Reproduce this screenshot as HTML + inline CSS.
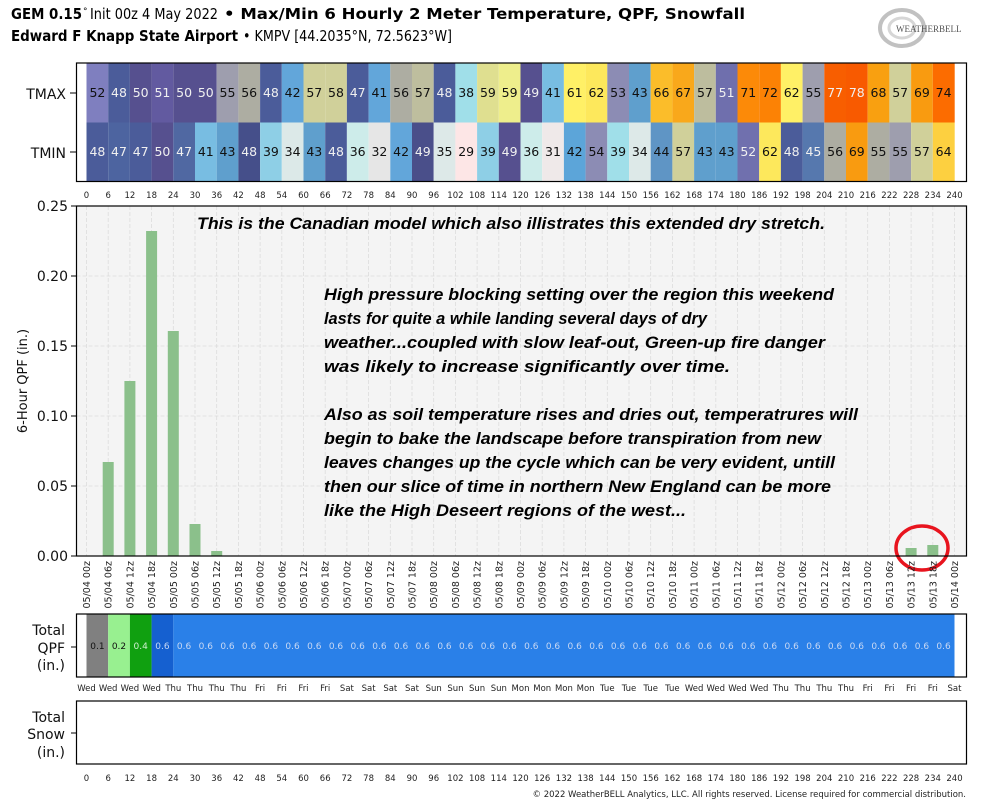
<!DOCTYPE html>
<html><head><meta charset="utf-8"><style>
body{margin:0;background:#fff;}
svg{display:block;font-family:"DejaVu Sans","Liberation Sans",sans-serif;}
.tk{font-size:8.5px;fill:#222;text-anchor:middle;}
.dt{font-size:9.5px;fill:#222;text-anchor:end;}
.c{font-size:12.5px;text-anchor:middle;}
.w{fill:#f0f0f0}.b{fill:#111}
.q{font-size:9px;text-anchor:middle;}
.an{font-family:"Liberation Sans",sans-serif;font-weight:bold;font-style:italic;font-size:17px;fill:#000;}
.lab{font-size:14px;fill:#111;text-anchor:end;}
</style></head><body>
<svg width="997" height="808" viewBox="0 0 997 808" xmlns="http://www.w3.org/2000/svg">
<!-- Title -->
<text x="11" y="19" font-size="15" font-weight="bold" fill="#000" textLength="71" lengthAdjust="spacingAndGlyphs">GEM 0.15</text>
<text x="83" y="14" font-size="9" fill="#000">°</text>
<text x="90" y="19" font-size="15" fill="#000" textLength="128" lengthAdjust="spacingAndGlyphs">Init 00z 4 May 2022</text>
<text x="224" y="19" font-size="15" font-weight="bold" fill="#000" textLength="521" lengthAdjust="spacingAndGlyphs">• Max/Min 6 Hourly 2 Meter Temperature,  QPF,  Snowfall</text>
<text x="11" y="41" font-size="15" font-weight="bold" fill="#000" textLength="227" lengthAdjust="spacingAndGlyphs">Edward F Knapp State Airport</text>
<text x="243" y="41" font-size="15" fill="#000" textLength="209" lengthAdjust="spacingAndGlyphs">• KMPV [44.2035°N, 72.5623°W]</text>
<!-- logo -->
<g opacity="0.6"><ellipse cx="902" cy="28" rx="22" ry="18" fill="none" stroke="#999" stroke-width="4"/><ellipse cx="902" cy="28" rx="13" ry="10" fill="none" stroke="#bbb" stroke-width="3"/></g>
<text x="896" y="32" font-size="9" fill="#555" font-family="Liberation Serif,serif">WEATHERBELL</text>

<!-- Heatmap -->
<g>
<rect x="86.5" y="63" width="21.7" height="59.5" fill="#7f7fbf"/><rect x="108.2" y="63" width="21.7" height="59.5" fill="#4b5c9a"/><rect x="129.9" y="63" width="21.7" height="59.5" fill="#56508f"/><rect x="151.6" y="63" width="21.7" height="59.5" fill="#625aa0"/><rect x="173.3" y="63" width="21.7" height="59.5" fill="#56508f"/><rect x="195" y="63" width="21.7" height="59.5" fill="#56508f"/><rect x="216.7" y="63" width="21.7" height="59.5" fill="#9e9eae"/><rect x="238.4" y="63" width="21.7" height="59.5" fill="#adada2"/><rect x="260.1" y="63" width="21.7" height="59.5" fill="#4b5c9a"/><rect x="281.8" y="63" width="21.7" height="59.5" fill="#62a6da"/><rect x="303.5" y="63" width="21.7" height="59.5" fill="#d0d09a"/><rect x="325.2" y="63" width="21.7" height="59.5" fill="#d0d09a"/><rect x="346.9" y="63" width="21.7" height="59.5" fill="#4b5c9a"/><rect x="368.6" y="63" width="21.7" height="59.5" fill="#62a6da"/><rect x="390.3" y="63" width="21.7" height="59.5" fill="#adada2"/><rect x="412" y="63" width="21.7" height="59.5" fill="#bebe9e"/><rect x="433.7" y="63" width="21.7" height="59.5" fill="#4b5c9a"/><rect x="455.4" y="63" width="21.7" height="59.5" fill="#a0dfe9"/><rect x="477.1" y="63" width="21.7" height="59.5" fill="#dfdf90"/><rect x="498.8" y="63" width="21.7" height="59.5" fill="#eeee8c"/><rect x="520.5" y="63" width="21.7" height="59.5" fill="#56508f"/><rect x="542.2" y="63" width="21.7" height="59.5" fill="#78bde2"/><rect x="563.9" y="63" width="21.7" height="59.5" fill="#fff066"/><rect x="585.6" y="63" width="21.7" height="59.5" fill="#fde85c"/><rect x="607.3" y="63" width="21.7" height="59.5" fill="#8c8cb4"/><rect x="629" y="63" width="21.7" height="59.5" fill="#5f9fcd"/><rect x="650.7" y="63" width="21.7" height="59.5" fill="#fbbd2a"/><rect x="672.4" y="63" width="21.7" height="59.5" fill="#f9a81b"/><rect x="694.1" y="63" width="21.7" height="59.5" fill="#bdbd9e"/><rect x="715.8" y="63" width="21.7" height="59.5" fill="#6f6fad"/><rect x="737.5" y="63" width="21.7" height="59.5" fill="#fc8a08"/><rect x="759.2" y="63" width="21.7" height="59.5" fill="#fc8205"/><rect x="780.9" y="63" width="21.7" height="59.5" fill="#fff066"/><rect x="802.6" y="63" width="21.7" height="59.5" fill="#9e9eae"/><rect x="824.3" y="63" width="21.7" height="59.5" fill="#f85e00"/><rect x="846" y="63" width="21.7" height="59.5" fill="#f85a00"/><rect x="867.7" y="63" width="21.7" height="59.5" fill="#f9a010"/><rect x="889.4" y="63" width="21.7" height="59.5" fill="#d0d09a"/><rect x="911.1" y="63" width="21.7" height="59.5" fill="#f99b10"/><rect x="932.8" y="63" width="21.9" height="59.5" fill="#fc6c00"/>
<rect x="86.5" y="122.5" width="21.7" height="59" fill="#4b5c9a"/><rect x="108.2" y="122.5" width="21.7" height="59" fill="#4d64a0"/><rect x="129.9" y="122.5" width="21.7" height="59" fill="#4b5c9a"/><rect x="151.6" y="122.5" width="21.7" height="59" fill="#56508f"/><rect x="173.3" y="122.5" width="21.7" height="59" fill="#5068a2"/><rect x="195" y="122.5" width="21.7" height="59" fill="#78bde2"/><rect x="216.7" y="122.5" width="21.7" height="59" fill="#5f9fcd"/><rect x="238.4" y="122.5" width="21.7" height="59" fill="#454f8a"/><rect x="260.1" y="122.5" width="21.7" height="59" fill="#8ecfe6"/><rect x="281.8" y="122.5" width="21.7" height="59" fill="#dce9e8"/><rect x="303.5" y="122.5" width="21.7" height="59" fill="#5f9fcd"/><rect x="325.2" y="122.5" width="21.7" height="59" fill="#4b5c9a"/><rect x="346.9" y="122.5" width="21.7" height="59" fill="#cdecea"/><rect x="368.6" y="122.5" width="21.7" height="59" fill="#e6e6e6"/><rect x="390.3" y="122.5" width="21.7" height="59" fill="#62a6da"/><rect x="412" y="122.5" width="21.7" height="59" fill="#4a4f8a"/><rect x="433.7" y="122.5" width="21.7" height="59" fill="#dde9e8"/><rect x="455.4" y="122.5" width="21.7" height="59" fill="#fde6e6"/><rect x="477.1" y="122.5" width="21.7" height="59" fill="#8ecfe6"/><rect x="498.8" y="122.5" width="21.7" height="59" fill="#56508f"/><rect x="520.5" y="122.5" width="21.7" height="59" fill="#cdecea"/><rect x="542.2" y="122.5" width="21.7" height="59" fill="#efe9e9"/><rect x="563.9" y="122.5" width="21.7" height="59" fill="#5ca5d9"/><rect x="585.6" y="122.5" width="21.7" height="59" fill="#8c8cb4"/><rect x="607.3" y="122.5" width="21.7" height="59" fill="#a0dfe9"/><rect x="629" y="122.5" width="21.7" height="59" fill="#dde9e8"/><rect x="650.7" y="122.5" width="21.7" height="59" fill="#5f95c5"/><rect x="672.4" y="122.5" width="21.7" height="59" fill="#d0d09a"/><rect x="694.1" y="122.5" width="21.7" height="59" fill="#5f9fcd"/><rect x="715.8" y="122.5" width="21.7" height="59" fill="#5f9fcd"/><rect x="737.5" y="122.5" width="21.7" height="59" fill="#7070ae"/><rect x="759.2" y="122.5" width="21.7" height="59" fill="#fde85c"/><rect x="780.9" y="122.5" width="21.7" height="59" fill="#4b5c9a"/><rect x="802.6" y="122.5" width="21.7" height="59" fill="#5678ae"/><rect x="824.3" y="122.5" width="21.7" height="59" fill="#adada2"/><rect x="846" y="122.5" width="21.7" height="59" fill="#f99b10"/><rect x="867.7" y="122.5" width="21.7" height="59" fill="#adada2"/><rect x="889.4" y="122.5" width="21.7" height="59" fill="#9e9eae"/><rect x="911.1" y="122.5" width="21.7" height="59" fill="#d0d09a"/><rect x="932.8" y="122.5" width="21.9" height="59" fill="#fdd040"/>
</g>
<g class="c">
<text x="97.4" y="97" class="b">52</text><text x="119" y="97" class="w">48</text><text x="140.7" y="97" class="w">50</text><text x="162.4" y="97" class="w">51</text><text x="184.1" y="97" class="w">50</text><text x="205.8" y="97" class="w">50</text><text x="227.5" y="97" class="b">55</text><text x="249.2" y="97" class="b">56</text><text x="270.9" y="97" class="w">48</text><text x="292.6" y="97" class="b">42</text><text x="314.3" y="97" class="b">57</text><text x="336" y="97" class="b">58</text><text x="357.7" y="97" class="w">47</text><text x="379.4" y="97" class="b">41</text><text x="401.1" y="97" class="b">56</text><text x="422.8" y="97" class="b">57</text><text x="444.5" y="97" class="w">48</text><text x="466.2" y="97" class="b">38</text><text x="487.9" y="97" class="b">59</text><text x="509.6" y="97" class="b">59</text><text x="531.3" y="97" class="w">49</text><text x="553" y="97" class="b">41</text><text x="574.7" y="97" class="b">61</text><text x="596.4" y="97" class="b">62</text><text x="618.1" y="97" class="b">53</text><text x="639.8" y="97" class="b">43</text><text x="661.5" y="97" class="b">66</text><text x="683.2" y="97" class="b">67</text><text x="704.9" y="97" class="b">57</text><text x="726.6" y="97" class="w">51</text><text x="748.3" y="97" class="b">71</text><text x="770" y="97" class="b">72</text><text x="791.7" y="97" class="b">62</text><text x="813.4" y="97" class="b">55</text><text x="835.1" y="97" class="w">77</text><text x="856.8" y="97" class="w">78</text><text x="878.5" y="97" class="b">68</text><text x="900.2" y="97" class="b">57</text><text x="921.9" y="97" class="b">69</text><text x="943.6" y="97" class="b">74</text>
<text x="97.4" y="156" class="w">48</text><text x="119" y="156" class="w">47</text><text x="140.7" y="156" class="w">47</text><text x="162.4" y="156" class="w">50</text><text x="184.1" y="156" class="w">47</text><text x="205.8" y="156" class="b">41</text><text x="227.5" y="156" class="b">43</text><text x="249.2" y="156" class="w">48</text><text x="270.9" y="156" class="b">39</text><text x="292.6" y="156" class="b">34</text><text x="314.3" y="156" class="b">43</text><text x="336" y="156" class="w">48</text><text x="357.7" y="156" class="b">36</text><text x="379.4" y="156" class="b">32</text><text x="401.1" y="156" class="b">42</text><text x="422.8" y="156" class="w">49</text><text x="444.5" y="156" class="b">35</text><text x="466.2" y="156" class="b">29</text><text x="487.9" y="156" class="b">39</text><text x="509.6" y="156" class="w">49</text><text x="531.3" y="156" class="b">36</text><text x="553" y="156" class="b">31</text><text x="574.7" y="156" class="b">42</text><text x="596.4" y="156" class="b">54</text><text x="618.1" y="156" class="b">39</text><text x="639.8" y="156" class="b">34</text><text x="661.5" y="156" class="b">44</text><text x="683.2" y="156" class="b">57</text><text x="704.9" y="156" class="b">43</text><text x="726.6" y="156" class="b">43</text><text x="748.3" y="156" class="w">52</text><text x="770" y="156" class="b">62</text><text x="791.7" y="156" class="w">48</text><text x="813.4" y="156" class="w">45</text><text x="835.1" y="156" class="b">56</text><text x="856.8" y="156" class="b">69</text><text x="878.5" y="156" class="b">55</text><text x="900.2" y="156" class="b">55</text><text x="921.9" y="156" class="b">57</text><text x="943.6" y="156" class="b">64</text>
</g>
<rect x="76.5" y="63" width="890" height="118.5" fill="none" stroke="#000" stroke-width="1.2"/>
<text x="66" y="99" class="lab">TMAX</text><text x="66" y="158" class="lab">TMIN</text>
<line x1="70" y1="93" x2="76" y2="93" stroke="#000"/><line x1="70" y1="152" x2="76" y2="152" stroke="#000"/>
<g class="tk">
<text x="86.5" y="198">0</text><text x="108.2" y="198">6</text><text x="129.9" y="198">12</text><text x="151.6" y="198">18</text><text x="173.3" y="198">24</text><text x="195" y="198">30</text><text x="216.7" y="198">36</text><text x="238.4" y="198">42</text><text x="260.1" y="198">48</text><text x="281.8" y="198">54</text><text x="303.5" y="198">60</text><text x="325.2" y="198">66</text><text x="346.9" y="198">72</text><text x="368.6" y="198">78</text><text x="390.3" y="198">84</text><text x="412" y="198">90</text><text x="433.7" y="198">96</text><text x="455.4" y="198">102</text><text x="477.1" y="198">108</text><text x="498.8" y="198">114</text><text x="520.5" y="198">120</text><text x="542.2" y="198">126</text><text x="563.9" y="198">132</text><text x="585.6" y="198">138</text><text x="607.3" y="198">144</text><text x="629" y="198">150</text><text x="650.7" y="198">156</text><text x="672.4" y="198">162</text><text x="694.1" y="198">168</text><text x="715.8" y="198">174</text><text x="737.5" y="198">180</text><text x="759.2" y="198">186</text><text x="780.9" y="198">192</text><text x="802.6" y="198">198</text><text x="824.3" y="198">204</text><text x="846" y="198">210</text><text x="867.7" y="198">216</text><text x="889.4" y="198">222</text><text x="911.1" y="198">228</text><text x="932.8" y="198">234</text><text x="954.5" y="198">240</text>
</g>

<!-- Main plot -->
<rect x="76.5" y="206" width="890" height="350" fill="#f4f4f4"/>
<g stroke="#dcdcdc" stroke-width="0.8" stroke-dasharray="4,2">
<line x1="76.5" y1="276" x2="966.5" y2="276"/><line x1="76.5" y1="346" x2="966.5" y2="346"/><line x1="76.5" y1="416" x2="966.5" y2="416"/><line x1="76.5" y1="486" x2="966.5" y2="486"/>
<path d="M86.5 206V556M108.2 206V556M129.9 206V556M151.6 206V556M173.3 206V556M195 206V556M216.7 206V556M238.4 206V556M260.1 206V556M281.8 206V556M303.5 206V556M325.2 206V556M346.9 206V556M368.6 206V556M390.3 206V556M412 206V556M433.7 206V556M455.4 206V556M477.1 206V556M498.8 206V556M520.5 206V556M542.2 206V556M563.9 206V556M585.6 206V556M607.3 206V556M629 206V556M650.7 206V556M672.4 206V556M694.1 206V556M715.8 206V556M737.5 206V556M759.2 206V556M780.9 206V556M802.6 206V556M824.3 206V556M846 206V556M867.7 206V556M889.4 206V556M911.1 206V556M932.8 206V556M954.5 206V556"/>
</g>
<g fill="#8bc08b">
<rect x="102.7" y="462" width="11" height="94"/><rect x="124.4" y="381" width="11" height="175"/><rect x="146.1" y="231" width="11" height="325"/><rect x="167.8" y="331" width="11" height="225"/><rect x="189.5" y="524" width="11" height="32"/><rect x="211.2" y="551" width="11" height="5"/><rect x="905.6" y="548" width="11" height="8"/><rect x="927.3" y="545" width="11" height="11"/>
</g>
<ellipse cx="922" cy="548" rx="26" ry="22" fill="none" stroke="#e8141e" stroke-width="3.5"/>
<rect x="76.5" y="206" width="890" height="350" fill="none" stroke="#000" stroke-width="1.2"/>
<g font-size="14" fill="#111" text-anchor="end">
<text x="68" y="211">0.25</text><text x="68" y="281">0.20</text><text x="68" y="351">0.15</text><text x="68" y="421">0.10</text><text x="68" y="491">0.05</text><text x="68" y="561">0.00</text>
</g>
<path d="M71 206H76M71 276H76M71 346H76M71 416H76M71 486H76M71 556H76" stroke="#000"/>
<text transform="translate(27,381) rotate(-90)" font-size="13" text-anchor="middle" fill="#111">6-Hour QPF (in.)</text>
<g class="dt">
<text transform="translate(90,561) rotate(-90)">05/04 00z</text><text transform="translate(111.7,561) rotate(-90)">05/04 06z</text><text transform="translate(133.4,561) rotate(-90)">05/04 12z</text><text transform="translate(155.1,561) rotate(-90)">05/04 18z</text><text transform="translate(176.8,561) rotate(-90)">05/05 00z</text><text transform="translate(198.5,561) rotate(-90)">05/05 06z</text><text transform="translate(220.2,561) rotate(-90)">05/05 12z</text><text transform="translate(241.9,561) rotate(-90)">05/05 18z</text><text transform="translate(263.6,561) rotate(-90)">05/06 00z</text><text transform="translate(285.3,561) rotate(-90)">05/06 06z</text><text transform="translate(307,561) rotate(-90)">05/06 12z</text><text transform="translate(328.7,561) rotate(-90)">05/06 18z</text><text transform="translate(350.4,561) rotate(-90)">05/07 00z</text><text transform="translate(372.1,561) rotate(-90)">05/07 06z</text><text transform="translate(393.8,561) rotate(-90)">05/07 12z</text><text transform="translate(415.5,561) rotate(-90)">05/07 18z</text><text transform="translate(437.2,561) rotate(-90)">05/08 00z</text><text transform="translate(458.9,561) rotate(-90)">05/08 06z</text><text transform="translate(480.6,561) rotate(-90)">05/08 12z</text><text transform="translate(502.3,561) rotate(-90)">05/08 18z</text><text transform="translate(524,561) rotate(-90)">05/09 00z</text><text transform="translate(545.7,561) rotate(-90)">05/09 06z</text><text transform="translate(567.4,561) rotate(-90)">05/09 12z</text><text transform="translate(589.1,561) rotate(-90)">05/09 18z</text><text transform="translate(610.8,561) rotate(-90)">05/10 00z</text><text transform="translate(632.5,561) rotate(-90)">05/10 06z</text><text transform="translate(654.2,561) rotate(-90)">05/10 12z</text><text transform="translate(675.9,561) rotate(-90)">05/10 18z</text><text transform="translate(697.6,561) rotate(-90)">05/11 00z</text><text transform="translate(719.3,561) rotate(-90)">05/11 06z</text><text transform="translate(741,561) rotate(-90)">05/11 12z</text><text transform="translate(762.7,561) rotate(-90)">05/11 18z</text><text transform="translate(784.4,561) rotate(-90)">05/12 00z</text><text transform="translate(806.1,561) rotate(-90)">05/12 06z</text><text transform="translate(827.8,561) rotate(-90)">05/12 12z</text><text transform="translate(849.5,561) rotate(-90)">05/12 18z</text><text transform="translate(871.2,561) rotate(-90)">05/13 00z</text><text transform="translate(892.9,561) rotate(-90)">05/13 06z</text><text transform="translate(914.6,561) rotate(-90)">05/13 12z</text><text transform="translate(936.3,561) rotate(-90)">05/13 18z</text><text transform="translate(958,561) rotate(-90)">05/14 00z</text>
</g>
<g class="an">
<text x="197" y="229" textLength="628" lengthAdjust="spacingAndGlyphs">This is the Canadian model which also illistrates this extended dry stretch.</text>
<text x="324" y="300" textLength="510" lengthAdjust="spacingAndGlyphs">High pressure blocking setting over the region this weekend</text>
<text x="324" y="324" textLength="383" lengthAdjust="spacingAndGlyphs">lasts for quite a while landing several days of dry</text>
<text x="324" y="348" textLength="501" lengthAdjust="spacingAndGlyphs">weather...coupled with slow leaf-out, Green-up fire danger</text>
<text x="324" y="372" textLength="406" lengthAdjust="spacingAndGlyphs">was likely to increase significantly over time.</text>
<text x="324" y="420" textLength="534" lengthAdjust="spacingAndGlyphs">Also as soil temperature rises and dries out, temperatrures will</text>
<text x="324" y="444" textLength="497" lengthAdjust="spacingAndGlyphs">begin to bake the landscape before transpiration from new</text>
<text x="324" y="468" textLength="511" lengthAdjust="spacingAndGlyphs">leaves changes up the cycle which can be very evident, untill</text>
<text x="324" y="492" textLength="507" lengthAdjust="spacingAndGlyphs">then our slice of time in northern New England can be more</text>
<text x="324" y="516" textLength="362" lengthAdjust="spacingAndGlyphs">like the High Deseert regions of the west...</text>
</g>

<!-- QPF panel -->
<rect x="86.5" y="614" width="21.7" height="63" fill="#808080"/><rect x="108.2" y="614" width="21.7" height="63" fill="#98f090"/><rect x="129.9" y="614" width="21.7" height="63" fill="#10a010"/><rect x="151.6" y="614" width="21.7" height="63" fill="#1560d0"/><rect x="173.3" y="614" width="781.2" height="63" fill="#2a80e8"/>
<rect x="76.5" y="614" width="890" height="63" fill="none" stroke="#000" stroke-width="1.2"/>
<g class="q" fill="#c8d8f4">
<text x="97.4" y="649" fill="#111">0.1</text><text x="119" y="649" fill="#111">0.2</text><text x="140.7" y="649" fill="#d0f0d0">0.4</text><text x="162.4" y="649">0.6</text><text x="184.1" y="649">0.6</text><text x="205.8" y="649">0.6</text><text x="227.5" y="649">0.6</text><text x="249.2" y="649">0.6</text><text x="270.9" y="649">0.6</text><text x="292.6" y="649">0.6</text><text x="314.3" y="649">0.6</text><text x="336" y="649">0.6</text><text x="357.7" y="649">0.6</text><text x="379.4" y="649">0.6</text><text x="401.1" y="649">0.6</text><text x="422.8" y="649">0.6</text><text x="444.5" y="649">0.6</text><text x="466.2" y="649">0.6</text><text x="487.9" y="649">0.6</text><text x="509.6" y="649">0.6</text><text x="531.3" y="649">0.6</text><text x="553" y="649">0.6</text><text x="574.7" y="649">0.6</text><text x="596.4" y="649">0.6</text><text x="618.1" y="649">0.6</text><text x="639.8" y="649">0.6</text><text x="661.5" y="649">0.6</text><text x="683.2" y="649">0.6</text><text x="704.9" y="649">0.6</text><text x="726.6" y="649">0.6</text><text x="748.3" y="649">0.6</text><text x="770" y="649">0.6</text><text x="791.7" y="649">0.6</text><text x="813.4" y="649">0.6</text><text x="835.1" y="649">0.6</text><text x="856.8" y="649">0.6</text><text x="878.5" y="649">0.6</text><text x="900.2" y="649">0.6</text><text x="921.9" y="649">0.6</text><text x="943.6" y="649">0.6</text>
</g>
<g class="lab"><text x="65" y="635">Total</text><text x="65" y="653">QPF</text><text x="65" y="670">(in.)</text></g>
<line x1="71" y1="647" x2="76" y2="647" stroke="#000"/>
<g class="tk">
<text x="86.5" y="691">Wed</text><text x="108.2" y="691">Wed</text><text x="129.9" y="691">Wed</text><text x="151.6" y="691">Wed</text><text x="173.3" y="691">Thu</text><text x="195" y="691">Thu</text><text x="216.7" y="691">Thu</text><text x="238.4" y="691">Thu</text><text x="260.1" y="691">Fri</text><text x="281.8" y="691">Fri</text><text x="303.5" y="691">Fri</text><text x="325.2" y="691">Fri</text><text x="346.9" y="691">Sat</text><text x="368.6" y="691">Sat</text><text x="390.3" y="691">Sat</text><text x="412" y="691">Sat</text><text x="433.7" y="691">Sun</text><text x="455.4" y="691">Sun</text><text x="477.1" y="691">Sun</text><text x="498.8" y="691">Sun</text><text x="520.5" y="691">Mon</text><text x="542.2" y="691">Mon</text><text x="563.9" y="691">Mon</text><text x="585.6" y="691">Mon</text><text x="607.3" y="691">Tue</text><text x="629" y="691">Tue</text><text x="650.7" y="691">Tue</text><text x="672.4" y="691">Tue</text><text x="694.1" y="691">Wed</text><text x="715.8" y="691">Wed</text><text x="737.5" y="691">Wed</text><text x="759.2" y="691">Wed</text><text x="780.9" y="691">Thu</text><text x="802.6" y="691">Thu</text><text x="824.3" y="691">Thu</text><text x="846" y="691">Thu</text><text x="867.7" y="691">Fri</text><text x="889.4" y="691">Fri</text><text x="911.1" y="691">Fri</text><text x="932.8" y="691">Fri</text><text x="954.5" y="691">Sat</text>
</g>

<!-- Snow panel -->
<rect x="76.5" y="701" width="890" height="63" fill="#fff" stroke="#000" stroke-width="1.2"/>
<g class="lab"><text x="65" y="722">Total</text><text x="65" y="739">Snow</text><text x="65" y="757">(in.)</text></g>
<line x1="71" y1="733" x2="76" y2="733" stroke="#000"/>
<g class="tk">
<text x="86.5" y="781">0</text><text x="108.2" y="781">6</text><text x="129.9" y="781">12</text><text x="151.6" y="781">18</text><text x="173.3" y="781">24</text><text x="195" y="781">30</text><text x="216.7" y="781">36</text><text x="238.4" y="781">42</text><text x="260.1" y="781">48</text><text x="281.8" y="781">54</text><text x="303.5" y="781">60</text><text x="325.2" y="781">66</text><text x="346.9" y="781">72</text><text x="368.6" y="781">78</text><text x="390.3" y="781">84</text><text x="412" y="781">90</text><text x="433.7" y="781">96</text><text x="455.4" y="781">102</text><text x="477.1" y="781">108</text><text x="498.8" y="781">114</text><text x="520.5" y="781">120</text><text x="542.2" y="781">126</text><text x="563.9" y="781">132</text><text x="585.6" y="781">138</text><text x="607.3" y="781">144</text><text x="629" y="781">150</text><text x="650.7" y="781">156</text><text x="672.4" y="781">162</text><text x="694.1" y="781">168</text><text x="715.8" y="781">174</text><text x="737.5" y="781">180</text><text x="759.2" y="781">186</text><text x="780.9" y="781">192</text><text x="802.6" y="781">198</text><text x="824.3" y="781">204</text><text x="846" y="781">210</text><text x="867.7" y="781">216</text><text x="889.4" y="781">222</text><text x="911.1" y="781">228</text><text x="932.8" y="781">234</text><text x="954.5" y="781">240</text>
</g>
<text x="966" y="797" font-size="8.5" text-anchor="end" fill="#222">© 2022 WeatherBELL Analytics, LLC. All rights reserved. License required for commercial distribution.</text>
</svg>
</body></html>
